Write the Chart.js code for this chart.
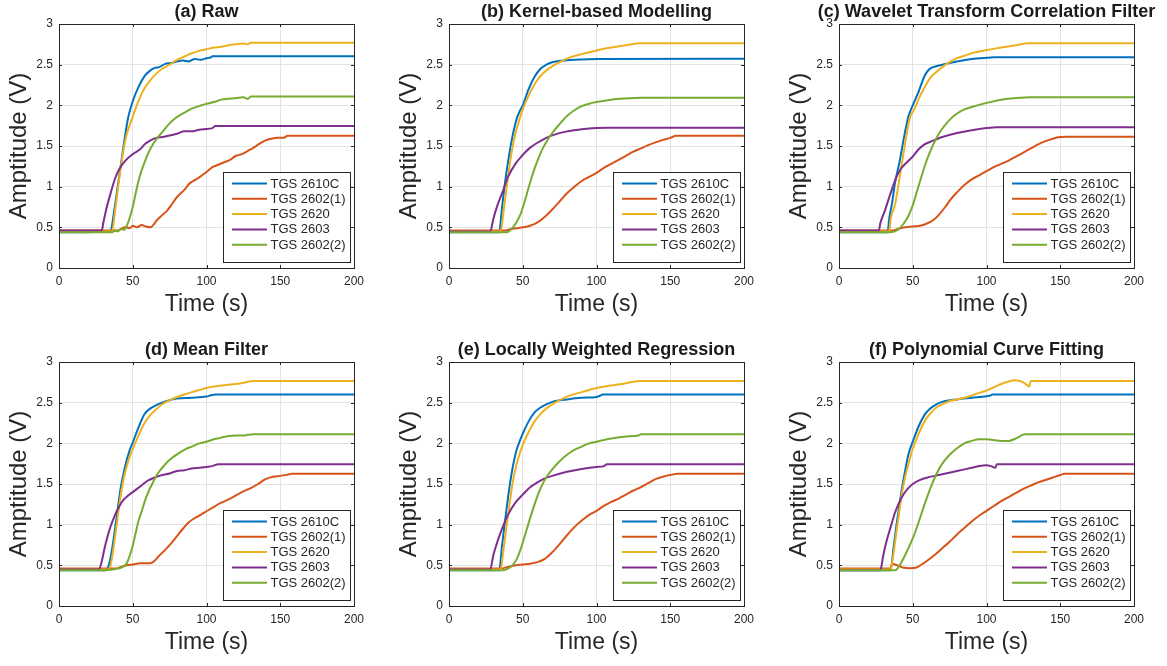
<!DOCTYPE html>
<html>
<head>
<meta charset="utf-8">
<title>Sensor response</title>
<script src="https://cdn.jsdelivr.net/npm/chart.js@4.4.1/dist/chart.umd.min.js"></script>
<style>
  body { margin: 0; background: #fff; }
  #wrap { position: relative; width: 1167px; height: 666px; }
  #wrap canvas { position: absolute; }
</style>
</head>
<body>
<div id="wrap">
  <canvas id="p0" width="387" height="328" style="left:0;top:0"></canvas>
  <canvas id="p1" width="387" height="328" style="left:390px;top:0"></canvas>
  <canvas id="p2" width="387" height="328" style="left:780px;top:0"></canvas>
  <canvas id="p3" width="387" height="328" style="left:0;top:338px"></canvas>
  <canvas id="p4" width="387" height="328" style="left:390px;top:338px"></canvas>
  <canvas id="p5" width="387" height="328" style="left:780px;top:338px"></canvas>
</div>
<script>
const sensorNames = ["TGS 2610C", "TGS 2602(1)", "TGS 2620", "TGS 2603", "TGS 2602(2)"];
const panelTitles = [
  "(a) Raw",
  "(b) Kernel-based Modelling",
  "(c) Wavelet Transform Correlation Filter",
  "(d) Mean Filter",
  "(e) Locally Weighted Regression",
  "(f) Polynomial Curve Fitting",
];

// [time (s), amplitude (V)]
// (a) raw
const rawBlue = [[0,0.44],[35,0.45],[37,0.65],[39,0.9],[41,1.15],[43,1.4],[45,1.65],[47,1.86],[50,2.05],[54,2.23],[58,2.36],[62,2.43],[65,2.46],[68,2.47],[72,2.51],[76,2.52],[80,2.54],[84,2.55],[88,2.54],[92,2.57],[96,2.56],[100,2.58],[103,2.59],[104,2.605],[200,2.605]];
const rawRed = [[0,0.46],[40,0.46],[42,0.48],[45,0.5],[48,0.49],[50,0.52],[53,0.5],[56,0.53],[59,0.51],[62,0.5],[64,0.53],[67,0.6],[70,0.65],[73,0.7],[76,0.77],[79,0.85],[82,0.91],[85,0.96],[88,1.03],[91,1.07],[94,1.1],[97,1.14],[100,1.18],[104,1.24],[108,1.27],[112,1.3],[116,1.33],[120,1.38],[124,1.4],[128,1.44],[132,1.48],[136,1.53],[140,1.57],[144,1.59],[148,1.6],[152,1.6],[155,1.625],[200,1.625]];
const rawYellow = [[0,0.45],[36,0.45],[38,0.7],[40,0.98],[42,1.25],[44,1.48],[46,1.65],[48,1.76],[50,1.86],[54,2.06],[58,2.21],[62,2.31],[66,2.39],[70,2.45],[75,2.5],[80,2.56],[85,2.6],[90,2.64],[95,2.67],[100,2.69],[105,2.71],[110,2.72],[115,2.74],[120,2.75],[125,2.76],[128,2.75],[130,2.77],[200,2.77]];
const rawPurple = [[0,0.46],[29,0.46],[30,0.55],[32,0.72],[35,0.92],[38,1.1],[41,1.22],[45,1.32],[50,1.4],[55,1.46],[58,1.52],[62,1.57],[66,1.6],[70,1.61],[75,1.63],[80,1.65],[85,1.68],[90,1.68],[95,1.7],[100,1.71],[104,1.72],[106,1.745],[200,1.745]];
const rawGreen = [[0,0.44],[36,0.44],[38,0.46],[40,0.45],[42,0.48],[44,0.47],[46,0.52],[48,0.62],[50,0.75],[52,0.92],[54,1.08],[56,1.2],[58,1.3],[61,1.43],[64,1.53],[67,1.61],[70,1.67],[74,1.76],[78,1.83],[82,1.88],[86,1.92],[90,1.96],[95,1.99],[100,2.02],[105,2.04],[110,2.07],[115,2.08],[120,2.09],[125,2.1],[128,2.08],[130,2.11],[200,2.11]];

// (b) kernel-based modelling
const kerBlue = [[0,0.44],[34,0.44],[36,0.75],[38,1.05],[40,1.3],[42,1.52],[44,1.7],[46,1.84],[48,1.93],[50,2.0],[54,2.2],[58,2.35],[62,2.45],[66,2.5],[70,2.53],[80,2.555],[90,2.565],[100,2.57],[200,2.574]];
const kerRed = [[0,0.46],[38,0.46],[42,0.48],[46,0.49],[50,0.5],[55,0.52],[60,0.56],[65,0.63],[70,0.72],[75,0.82],[80,0.92],[85,1.0],[90,1.07],[95,1.12],[100,1.17],[105,1.23],[110,1.28],[115,1.33],[120,1.38],[125,1.43],[130,1.47],[135,1.51],[140,1.545],[145,1.575],[150,1.6],[154,1.625],[200,1.625]];
const kerYellow = [[0,0.45],[35,0.45],[37,0.7],[39,0.98],[41,1.25],[43,1.48],[45,1.65],[47,1.78],[50,1.95],[54,2.12],[58,2.26],[62,2.36],[66,2.43],[70,2.48],[76,2.54],[82,2.59],[90,2.63],[100,2.675],[110,2.71],[120,2.74],[130,2.763],[200,2.763]];
const kerPurple = [[0,0.45],[28,0.45],[30,0.6],[33,0.78],[36,0.92],[40,1.12],[45,1.28],[50,1.39],[55,1.48],[60,1.54],[65,1.59],[70,1.63],[80,1.68],[90,1.705],[100,1.72],[107,1.724],[200,1.724]];
const kerGreen = [[0,0.44],[39,0.44],[42,0.47],[45,0.54],[48,0.64],[51,0.8],[54,0.99],[57,1.17],[60,1.32],[63,1.45],[66,1.55],[70,1.66],[75,1.77],[80,1.87],[85,1.94],[90,1.99],[95,2.02],[100,2.04],[110,2.07],[120,2.085],[130,2.094],[200,2.094]];

// (c) wavelet transform correlation filter
const wavBlue = [[0,0.44],[33,0.44],[34,0.6],[36,0.8],[38,1.05],[41,1.3],[44,1.6],[47,1.86],[50,2.0],[54,2.17],[58,2.36],[61,2.44],[64,2.47],[70,2.5],[80,2.54],[90,2.57],[100,2.585],[105,2.59],[200,2.59]];
const wavRed = [[0,0.46],[36,0.46],[40,0.48],[45,0.5],[50,0.51],[55,0.52],[60,0.55],[64,0.59],[68,0.66],[72,0.75],[76,0.85],[80,0.93],[85,1.02],[90,1.09],[95,1.14],[100,1.19],[105,1.24],[110,1.28],[115,1.32],[120,1.37],[125,1.42],[130,1.47],[135,1.52],[140,1.56],[145,1.59],[150,1.61],[155,1.615],[200,1.615]];
const wavYellow = [[0,0.45],[34,0.45],[35,0.6],[38,0.78],[41,1.1],[45,1.55],[48,1.84],[51,1.95],[54,2.08],[58,2.22],[62,2.34],[66,2.41],[70,2.47],[75,2.53],[80,2.58],[85,2.61],[90,2.64],[100,2.68],[110,2.71],[120,2.74],[128,2.763],[200,2.763]];
const wavPurple = [[0,0.46],[27,0.46],[28,0.55],[31,0.7],[35,0.92],[39,1.12],[42,1.22],[46,1.3],[50,1.37],[54,1.46],[58,1.52],[63,1.56],[70,1.61],[80,1.66],[90,1.695],[100,1.72],[107,1.73],[200,1.73]];
const wavGreen = [[0,0.44],[35,0.44],[40,0.47],[44,0.55],[47,0.64],[50,0.77],[53,0.95],[56,1.13],[59,1.3],[62,1.44],[65,1.56],[68,1.66],[72,1.76],[76,1.84],[80,1.9],[85,1.95],[90,1.98],[100,2.03],[110,2.07],[120,2.09],[130,2.1],[200,2.1]];

// (d) mean filter
const meanBlue = [[0,0.44],[32,0.44],[34,0.52],[36,0.7],[38,0.95],[40,1.22],[42,1.47],[44,1.65],[46,1.8],[48,1.92],[50,2.01],[54,2.2],[58,2.36],[62,2.43],[66,2.47],[70,2.5],[75,2.53],[80,2.55],[90,2.56],[100,2.575],[103,2.59],[106,2.6],[200,2.6]];
const meanRed = [[0,0.46],[38,0.46],[42,0.48],[46,0.5],[50,0.51],[55,0.525],[62,0.525],[65,0.56],[68,0.62],[72,0.69],[76,0.77],[80,0.86],[84,0.95],[88,1.03],[92,1.08],[96,1.12],[100,1.165],[105,1.22],[110,1.27],[115,1.31],[120,1.36],[125,1.41],[130,1.45],[135,1.5],[140,1.56],[145,1.59],[150,1.6],[155,1.615],[158,1.625],[200,1.625]];
const meanYellow = [[0,0.45],[34,0.45],[36,0.6],[38,0.85],[40,1.12],[42,1.38],[44,1.58],[46,1.72],[48,1.84],[50,1.93],[54,2.1],[58,2.25],[62,2.35],[66,2.42],[70,2.48],[75,2.53],[80,2.57],[85,2.6],[90,2.63],[95,2.655],[100,2.68],[110,2.71],[120,2.73],[125,2.745],[132,2.766],[200,2.766]];
const meanPurple = [[0,0.45],[27,0.45],[29,0.55],[31,0.72],[33,0.86],[35,0.98],[38,1.12],[41,1.23],[44,1.31],[47,1.36],[50,1.4],[55,1.47],[60,1.54],[65,1.58],[70,1.61],[75,1.63],[80,1.66],[85,1.67],[90,1.69],[95,1.7],[100,1.71],[104,1.72],[108,1.744],[200,1.744]];
const meanGreen = [[0,0.44],[30,0.44],[40,0.46],[44,0.49],[46,0.53],[48,0.62],[50,0.74],[52,0.9],[54,1.05],[56,1.16],[58,1.28],[61,1.42],[64,1.53],[67,1.63],[70,1.7],[74,1.78],[78,1.84],[82,1.89],[86,1.93],[90,1.96],[95,2.0],[100,2.02],[105,2.05],[110,2.07],[115,2.09],[120,2.095],[125,2.095],[128,2.105],[132,2.113],[200,2.113]];

// (e) locally weighted regression
const lwrBlue = [[0,0.44],[34,0.44],[36,0.75],[38,1.05],[40,1.33],[42,1.58],[44,1.78],[46,1.93],[48,2.03],[50,2.12],[54,2.27],[58,2.38],[62,2.44],[66,2.48],[70,2.51],[80,2.54],[90,2.56],[100,2.57],[103,2.59],[104,2.6],[200,2.6]];
const lwrRed = [[0,0.46],[35,0.46],[40,0.48],[45,0.5],[50,0.51],[55,0.52],[60,0.54],[65,0.58],[70,0.66],[75,0.76],[80,0.87],[85,0.97],[90,1.05],[95,1.12],[100,1.17],[105,1.23],[110,1.28],[115,1.32],[120,1.37],[125,1.42],[130,1.46],[135,1.51],[140,1.56],[145,1.59],[150,1.61],[155,1.625],[200,1.625]];
const lwrYellow = [[0,0.45],[35,0.45],[37,0.7],[39,0.98],[41,1.25],[43,1.5],[45,1.68],[47,1.82],[50,1.98],[54,2.14],[58,2.27],[62,2.36],[66,2.43],[70,2.48],[76,2.54],[82,2.59],[90,2.63],[100,2.68],[110,2.71],[120,2.74],[130,2.766],[200,2.766]];
const lwrPurple = [[0,0.45],[28,0.45],[30,0.62],[33,0.8],[36,0.95],[40,1.12],[45,1.27],[50,1.37],[55,1.46],[60,1.52],[65,1.57],[70,1.6],[80,1.65],[90,1.685],[100,1.71],[105,1.72],[107,1.744],[200,1.744]];
const lwrGreen = [[0,0.44],[37,0.44],[40,0.46],[43,0.5],[46,0.58],[49,0.72],[52,0.9],[55,1.08],[58,1.25],[61,1.4],[64,1.52],[67,1.61],[70,1.68],[75,1.78],[80,1.86],[85,1.92],[90,1.96],[95,2.0],[100,2.02],[110,2.06],[120,2.085],[129,2.1],[130,2.113],[200,2.113]];

// (f) polynomial curve fitting
const polyBlue = [[0,0.44],[35,0.44],[37,0.72],[39,1.0],[41,1.25],[43,1.48],[45,1.68],[47,1.86],[50,2.02],[54,2.21],[58,2.35],[62,2.43],[66,2.48],[70,2.51],[80,2.54],[90,2.56],[100,2.58],[103,2.59],[104,2.6],[200,2.6]];
const polyRed = [[0,0.46],[35,0.46],[36,0.52],[38,0.51],[41,0.49],[44,0.47],[48,0.465],[52,0.47],[56,0.51],[60,0.56],[65,0.63],[70,0.71],[75,0.79],[80,0.88],[85,0.96],[90,1.04],[95,1.11],[100,1.17],[105,1.23],[110,1.29],[115,1.34],[120,1.39],[125,1.44],[130,1.48],[135,1.52],[140,1.55],[145,1.58],[150,1.61],[153,1.625],[200,1.625]];
const polyYellow = [[0,0.45],[35,0.45],[37,0.65],[39,0.92],[41,1.18],[43,1.42],[45,1.6],[47,1.74],[50,1.93],[54,2.12],[58,2.27],[62,2.37],[66,2.44],[70,2.48],[75,2.52],[80,2.54],[85,2.56],[90,2.59],[95,2.62],[100,2.65],[105,2.69],[110,2.73],[115,2.76],[119,2.775],[122,2.77],[125,2.75],[128,2.71],[129,2.7],[130,2.766],[200,2.766]];
const polyPurple = [[0,0.44],[28,0.44],[30,0.62],[32,0.78],[35,0.97],[38,1.15],[41,1.28],[44,1.38],[47,1.45],[50,1.5],[55,1.55],[60,1.58],[65,1.6],[70,1.62],[80,1.66],[90,1.7],[95,1.72],[100,1.73],[103,1.72],[106,1.7],[107,1.744],[200,1.744]];
const polyGreen = [[0,0.44],[38,0.44],[40,0.47],[43,0.56],[46,0.67],[50,0.83],[54,1.03],[58,1.25],[62,1.45],[66,1.62],[70,1.75],[75,1.86],[80,1.94],[85,2.0],[90,2.03],[95,2.05],[100,2.05],[105,2.04],[110,2.03],[115,2.03],[120,2.06],[124,2.1],[126,2.113],[200,2.113]];

const panelSeries = [
  [rawBlue, rawRed, rawYellow, rawPurple, rawGreen],
  [kerBlue, kerRed, kerYellow, kerPurple, kerGreen],
  [wavBlue, wavRed, wavYellow, wavPurple, wavGreen],
  [meanBlue, meanRed, meanYellow, meanPurple, meanGreen],
  [lwrBlue, lwrRed, lwrYellow, lwrPurple, lwrGreen],
  [polyBlue, polyRed, polyYellow, polyPurple, polyGreen],
];

const lineColors = ["#0072BD", "#D95319", "#EDB120", "#7E2F8E", "#77AC30"];
const fontFamily = '"Liberation Sans", Arial, Helvetica, sans-serif';
const axisInk = "#262626";

// title above the plot, box with inward ticks, legend in lower right
const panelDecor = {
  id: "panelDecor",
  afterDraw(chart, args, opts) {
    const { ctx, chartArea: a, scales } = chart;
    ctx.save();

    ctx.strokeStyle = axisInk;
    ctx.lineWidth = 1;
    ctx.beginPath();
    scales.x.ticks.forEach((t) => {
      const px = Math.round(scales.x.getPixelForValue(t.value)) + 0.5;
      ctx.moveTo(px, a.bottom); ctx.lineTo(px, a.bottom - 3);
      ctx.moveTo(px, a.top); ctx.lineTo(px, a.top + 3);
    });
    scales.y.ticks.forEach((t) => {
      const py = Math.round(scales.y.getPixelForValue(t.value)) + 0.5;
      ctx.moveTo(a.left, py); ctx.lineTo(a.left + 3, py);
      ctx.moveTo(a.right, py); ctx.lineTo(a.right - 3, py);
    });
    ctx.stroke();
    ctx.strokeRect(Math.round(a.left) + 0.5, Math.round(a.top) + 0.5,
      Math.round(a.right - a.left), Math.round(a.bottom - a.top));

    ctx.fillStyle = "#1a1a1a";
    ctx.font = "bold 18px " + fontFamily;
    ctx.textAlign = "center";
    ctx.textBaseline = "middle";
    ctx.fillText(opts.text, (a.left + a.right) / 2, a.top - 12);

    // legend box
    const w = 127, h = 90;
    const bx = Math.round(a.right - 4 - w) + 0.5;
    const by = Math.round(a.bottom - 6 - h) + 0.5;
    ctx.fillStyle = "#fff";
    ctx.fillRect(bx, by, w, h);
    ctx.strokeStyle = axisInk;
    ctx.strokeRect(bx, by, w, h);
    ctx.font = "13px " + fontFamily;
    ctx.textAlign = "left";
    chart.data.datasets.forEach((ds, i) => {
      const y = by + 11 + i * 15.3;
      ctx.strokeStyle = ds.borderColor;
      ctx.lineWidth = 2;
      ctx.beginPath();
      ctx.moveTo(bx + 8.5, y);
      ctx.lineTo(bx + 43.5, y);
      ctx.stroke();
      ctx.fillStyle = axisInk;
      ctx.fillText(ds.label, bx + 47, y + 0.5);
    });
    ctx.restore();
  },
};

function makePanel(idx) {
  const canvas = document.getElementById("p" + idx);
  const datasets = panelSeries[idx].map((series, i) => ({
    label: sensorNames[i],
    data: series.map(([t, v]) => ({ x: t, y: v })),
    borderColor: lineColors[i],
    borderWidth: 2,
    pointRadius: 0,
    fill: false,
    cubicInterpolationMode: "monotone",
    order: sensorNames.length - i,
  }));
  new Chart(canvas, {
    type: "line",
    data: { datasets },
    options: {
      responsive: false,
      animation: false,
      devicePixelRatio: 1,
      layout: { padding: { top: 24, right: 33, left: 0, bottom: 0 } },
      plugins: {
        legend: { display: false },
        tooltip: { enabled: false },
        title: { display: false },
        panelDecor: { text: panelTitles[idx] },
      },
      scales: {
        x: {
          type: "linear",
          min: 0,
          max: 200,
          ticks: { stepSize: 50, color: axisInk, padding: 6, font: { family: fontFamily, size: 12 } },
          grid: { color: "#e3e3e3", drawTicks: false },
          border: { display: false },
          title: {
            display: true,
            text: "Time (s)",
            color: axisInk,
            font: { family: fontFamily, size: 23 },
            padding: { top: 0, bottom: 10 },
          },
          afterFit: (scale) => { scale.height = 60; },
        },
        y: {
          min: 0,
          max: 3,
          ticks: {
            stepSize: 0.5,
            color: axisInk,
            padding: 6,
            font: { family: fontFamily, size: 12 },
            callback: (v) => String(v),
          },
          grid: { color: "#e3e3e3", drawTicks: false },
          border: { display: false },
          title: {
            display: true,
            text: "Amptitude (V)",
            color: axisInk,
            font: { family: fontFamily, size: 24 },
            padding: { top: 5, bottom: 0 },
          },
          afterFit: (scale) => { scale.width = 59; },
        },
      },
    },
    plugins: [panelDecor],
  });
}

panelTitles.forEach((_, i) => makePanel(i));
</script>
</body>
</html>
